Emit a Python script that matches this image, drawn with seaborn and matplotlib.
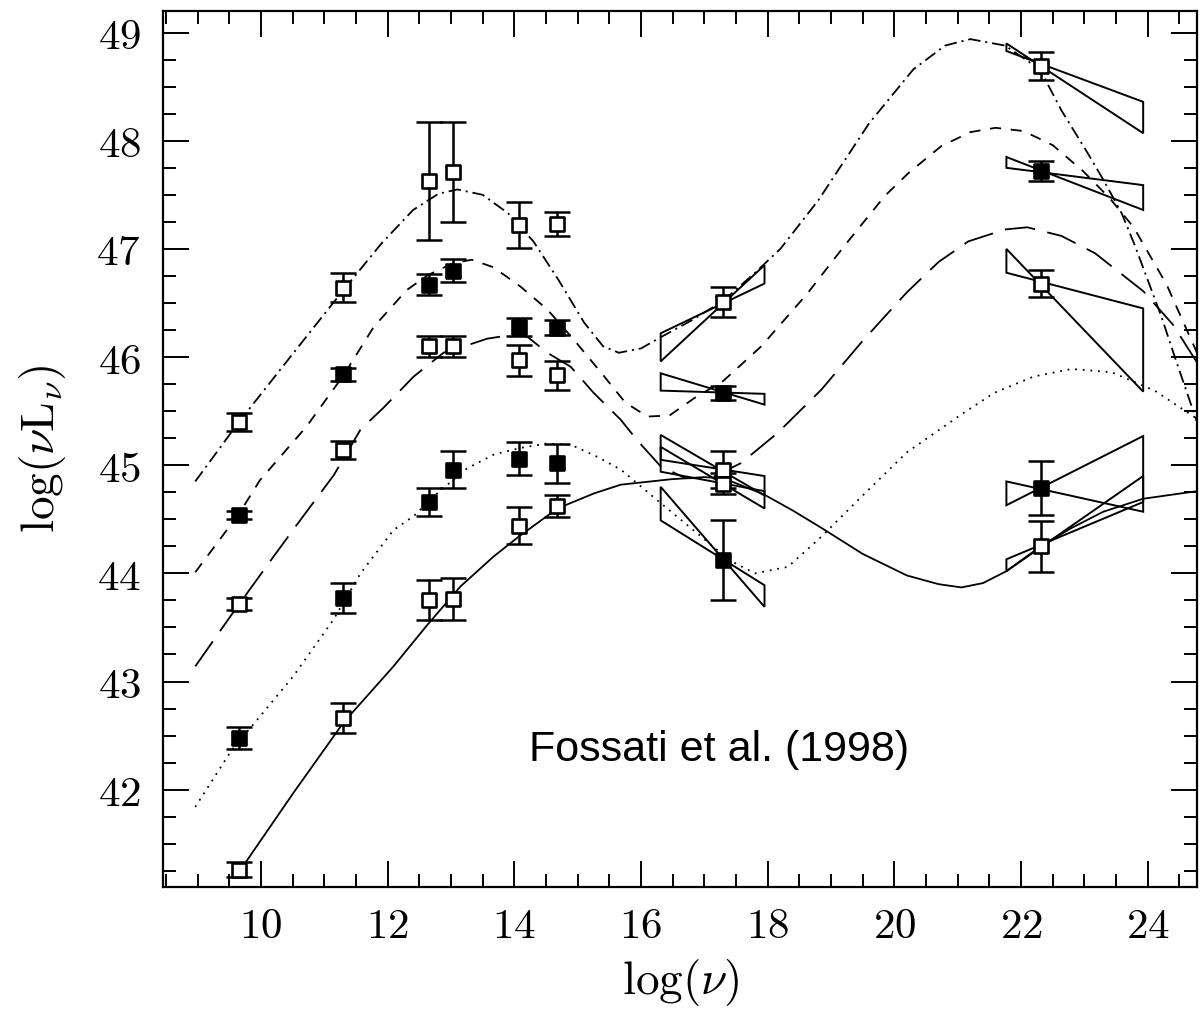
import numpy as np
import pandas as pd
import matplotlib
matplotlib.use("Agg")
import matplotlib.pyplot as plt
from matplotlib.patches import Polygon
from matplotlib.ticker import FixedLocator, FixedFormatter, MultipleLocator
import seaborn as sns

# ---------------- data ----------------
band_x = [9.65, 11.30, 12.65, 13.03, 14.07, 14.67, 17.30, 22.31]

s1_y = [45.40, 46.64, 47.63, 47.71, 47.22, 47.23, 46.51, 48.69]
s1_e = [0.08, 0.135, 0.545, 0.46, 0.21, 0.11, 0.14, 0.13]
s2_y = [44.54, 45.84, 46.67, 46.80, 46.28, 46.27, 45.67, 47.72]
s2_e = [0.04, 0.06, 0.10, 0.11, 0.085, 0.07, 0.065, 0.095]
s3_y = [43.72, 45.14, 46.10, 46.10, 45.97, 45.83, 44.96, 46.68]
s3_e = [0.055, 0.085, 0.095, 0.095, 0.145, 0.135, 0.17, 0.125]
s4_y = [42.48, 43.77, 44.66, 44.96, 45.06, 45.02, 44.12, 44.79]
s4_e = [0.10, 0.14, 0.125, 0.17, 0.155, 0.18, 0.37, 0.25]
s5_y = [41.26, 42.66, 43.75, 43.76, 44.44, 44.62, 44.83, 44.25]
s5_e = [0.07, 0.14, 0.185, 0.195, 0.17, 0.10, 0.10, 0.235]
filled = [False, True, False, True, False]

# model curves
c1_x = [8.96, 9.65, 10.5, 11.3, 11.9, 12.4, 12.8, 13.1, 13.5, 13.9, 14.3, 14.7, 15.1, 15.4, 15.65,
        16.0, 16.3, 16.8, 17.3, 17.8, 18.2, 18.8, 19.6, 20.3, 20.8, 21.2, 21.75, 22.3, 22.64, 23.06,
        23.32, 23.59, 23.80, 24.01, 24.22, 24.43, 24.64, 24.78]
c1_y = [44.85, 45.40, 46.03, 46.62, 47.05, 47.36, 47.51, 47.55, 47.50, 47.33, 47.07, 46.71, 46.32, 46.10, 46.04,
        46.08, 46.18, 46.34, 46.52, 46.78, 47.00, 47.45, 48.16, 48.66, 48.88, 48.94, 48.88, 48.66, 48.28, 47.88,
        47.62, 47.33, 47.03, 46.70, 46.37, 46.00, 45.64, 45.40]
c2_x = [8.96, 9.65, 9.98, 10.72, 11.3, 11.78, 12.3, 12.64, 13.04, 13.33, 13.67, 14.1, 14.52, 14.94, 15.42,
        15.75, 16.1, 16.45, 16.84, 17.3, 17.9, 18.63, 19.2, 19.85, 20.22, 20.74, 21.2, 21.6, 22.04, 22.5,
        22.98, 23.4, 23.78, 24.3, 24.78]
c2_y = [44.01, 44.55, 44.86, 45.36, 45.83, 46.28, 46.62, 46.76, 46.87, 46.90, 46.83, 46.65, 46.44, 46.16, 45.82,
        45.58, 45.45, 45.46, 45.62, 45.78, 46.10, 46.59, 47.02, 47.49, 47.70, 47.95, 48.08, 48.12, 48.09, 47.96,
        47.72, 47.47, 47.20, 46.67, 46.04]
c3_x = [8.96, 9.5, 10.14, 10.54, 11.15, 11.57, 11.93, 12.41, 12.88, 13.26, 13.57, 13.9, 14.2, 14.52, 14.89,
        15.25, 15.68, 15.94, 16.31, 16.7, 17.1, 17.58, 18.16, 18.85, 19.5, 20.2, 20.7, 21.17, 21.75, 22.1,
        22.64, 23.17, 23.93, 24.4, 24.78]
c3_y = [43.14, 43.59, 44.11, 44.43, 44.91, 45.33, 45.53, 45.82, 46.04, 46.11, 46.17, 46.20, 46.19, 46.04, 45.91,
        45.67, 45.42, 45.23, 44.99, 44.88, 44.88, 45.02, 45.30, 45.70, 46.15, 46.60, 46.88, 47.07, 47.18, 47.20,
        47.12, 46.96, 46.61, 46.30, 45.95]
c4_x = [8.96, 9.54, 9.93, 10.51, 11.14, 11.57, 12.09, 12.41, 12.8, 13.25, 13.68, 14.1, 14.5, 14.89, 15.3,
        15.68, 16.31, 16.95, 17.4, 17.8, 18.32, 18.85, 19.5, 20.2, 21.06, 21.58, 22.2, 22.8, 23.43, 24.11, 24.78]
c4_y = [41.84, 42.37, 42.64, 43.05, 43.57, 44.00, 44.40, 44.53, 44.75, 44.97, 45.10, 45.16, 45.20, 45.19, 45.08,
        44.96, 44.65, 44.34, 44.12, 44.00, 44.06, 44.34, 44.72, 45.12, 45.47, 45.67, 45.82, 45.89, 45.86, 45.69, 45.43]
c5_x = [9.70, 10.51, 11.30, 12.09, 12.62, 13.15, 13.68, 14.07, 14.68, 15.26, 15.68, 16.47, 16.99, 17.3, 17.94,
        18.4, 18.85, 19.5, 20.2, 20.7, 21.06, 21.4, 21.77, 22.31, 22.8, 23.3, 23.93, 24.78]
c5_y = [41.28, 41.97, 42.62, 43.14, 43.52, 43.88, 44.16, 44.34, 44.60, 44.74, 44.82, 44.87, 44.89, 44.88, 44.73,
        44.58, 44.42, 44.18, 43.98, 43.90, 43.87, 43.91, 44.02, 44.25, 44.42, 44.57, 44.69, 44.76]

# spectral "bow-ties": [left end, right end] of the two slope lines (A, B)
xray_x = [16.31, 17.95]
gamma_x = [21.77, 23.93]
xray_A = [[45.96, 46.85], [45.85, 45.56], [45.28, 44.72], [44.80, 43.69], [45.17, 44.60]]
xray_B = [[46.22, 46.68], [45.69, 45.66], [45.05, 44.90], [44.49, 43.89], [44.94, 44.76]]
gamma_A = [[48.90, 48.07], [47.85, 47.36], [47.00, 45.68], [44.63, 45.27], [44.02, 44.90]]
gamma_B = [[48.83, 48.36], [47.75, 47.59], [46.78, 46.45], [44.85, 44.57], [44.13, 44.66]]

xticks = [10, 12, 14, 16, 18, 20, 22, 24]
yticks = [42, 43, 44, 45, 46, 47, 48, 49]
xlabel = r"$\log(\nu)$"
ylabel = r"$\log(\nu \mathrm{L}_\nu)$"
note = "Fossati et al. (1998)"

# ---------------- style ----------------
sns.set_style("ticks")
plt.rcParams["mathtext.fontset"] = "cm"
plt.rcParams["font.family"] = ["DejaVu Serif"]
plt.rcParams["lines.scale_dashes"] = False
plt.rcParams["text.color"] = "black"
plt.rcParams["axes.labelcolor"] = "black"

fig = plt.figure(figsize=(12, 10.1), dpi=100)
ax = fig.add_axes([0.1358, 0.1218, 0.8617, 0.8673])

styles = [(0, (9, 3.5, 1.5, 3.5)), (0, (8, 7)), (0, (22, 9)), (0, (1.3, 4.2)), "solid"]
curves = [(c1_x, c1_y), (c2_x, c2_y), (c3_x, c3_y), (c4_x, c4_y), (c5_x, c5_y)]
for (cx, cy), ls in zip(curves, styles):
    sns.lineplot(x=cx, y=cy, ax=ax, color="black", linewidth=1.3, linestyle=ls,
                 sort=False, estimator=None, zorder=2)

for i in range(5):
    for bx, A, B in ((xray_x, xray_A[i], xray_B[i]), (gamma_x, gamma_A[i], gamma_B[i])):
        verts = [(bx[0], A[0]), (bx[1], A[1]), (bx[1], B[1]), (bx[0], B[0])]
        ax.add_patch(Polygon(verts, closed=True, fill=False, edgecolor="black",
                             linewidth=1.4, zorder=2.5))

series = [(s1_y, s1_e), (s2_y, s2_e), (s3_y, s3_e), (s4_y, s4_e), (s5_y, s5_e)]
for (sy, se), f in zip(series, filled):
    ax.errorbar(band_x, sy, yerr=se, fmt="none", ecolor="black", elinewidth=1.8,
                capsize=9.5, capthick=1.8, zorder=3)
    sns.scatterplot(x=band_x, y=sy, ax=ax, marker="s", s=100,
                    color="black" if f else "white", edgecolor="black",
                    linewidth=1.9, zorder=4)

ax.set_xlim(8.45, 24.78)
ax.set_ylim(41.10, 49.20)
ax.xaxis.set_major_locator(FixedLocator(xticks))
ax.xaxis.set_major_formatter(FixedFormatter([f"${t}$" for t in xticks]))
ax.yaxis.set_major_locator(FixedLocator(yticks))
ax.yaxis.set_major_formatter(FixedFormatter([f"${t}$" for t in yticks]))
ax.xaxis.set_minor_locator(MultipleLocator(0.5))
ax.yaxis.set_minor_locator(MultipleLocator(0.25))

ax.tick_params(which="major", direction="in", length=19, width=1.4,
               top=True, right=True, labelsize=31, colors="black")
ax.tick_params(which="minor", direction="in", length=9.5, width=1.4, top=True, right=True,
               colors="black")
ax.tick_params(axis="x", which="major", pad=13)
ax.tick_params(axis="y", which="major", pad=16)
for sp in ax.spines.values():
    sp.set_linewidth(1.6)
    sp.set_color("black")

ax.set_xlabel(xlabel, fontsize=34, color="black")
ax.set_ylabel(ylabel, fontsize=34, color="black")
ax.xaxis.set_label_coords(0.501, -0.080)
ax.yaxis.set_label_coords(-0.092, 0.50)

ax.text(17.23, 42.37, note, ha="center", va="center", fontsize=31,
        family=["Liberation Sans", "DejaVu Sans"], color="black")

fig.savefig("out.png", dpi=100, facecolor="white")
